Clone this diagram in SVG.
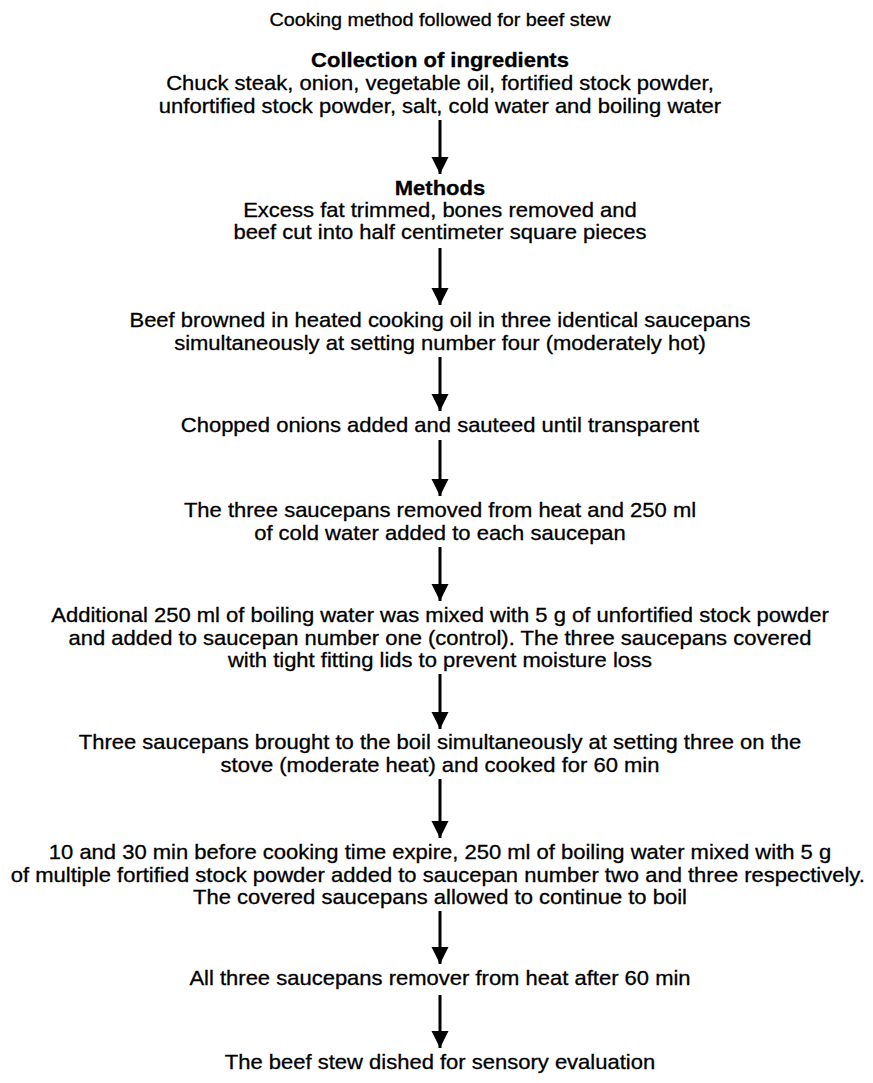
<svg xmlns="http://www.w3.org/2000/svg" width="873" height="1083" viewBox="0 0 873 1083">
<style>
text{font-family:"Liberation Sans",Arial,sans-serif;font-size:20px;fill:#000;stroke:#000;stroke-width:0.3;text-anchor:middle}
.t{font-size:18px}
.b{font-weight:bold}
.c{stroke:#000;stroke-width:3;fill:none}
</style>
<defs>
<marker id="ah" markerUnits="userSpaceOnUse" markerWidth="18" markerHeight="18" refX="17" refY="8.5" orient="auto"><path d="M0,0 L17,8.5 L0,17 Z" fill="#000"/></marker>
</defs>
<rect width="873" height="1083" fill="#fff"/>
<g id="title" transform="matrix(1.1 0 0 1 -44 0)"><text class="t" x="440" y="26">Cooking method followed for beef stew</text></g>
<g id="n1" transform="matrix(1.1 0 0 1 -44 0)"><text class="b" x="440" y="67">Collection of ingredients</text><text x="440" y="90">Chuck steak, onion, vegetable oil, fortified stock powder,</text><text x="440" y="113">unfortified stock powder, salt, cold water and boiling water</text></g>
<g id="n2" transform="matrix(1.1 0 0 1 -44 0)"><text class="b" x="440" y="195">Methods</text><text x="440" y="217">Excess fat trimmed, bones removed and</text><text x="440" y="239">beef cut into half centimeter square pieces</text></g>
<g id="n3" transform="matrix(1.1 0 0 1 -44 0)"><text x="440" y="327">Beef browned in heated cooking oil in three identical saucepans</text><text x="440" y="350">simultaneously at setting number four (moderately hot)</text></g>
<g id="n4" transform="matrix(1.1 0 0 1 -44 0)"><text x="440" y="432">Chopped onions added and sauteed until transparent</text></g>
<g id="n5" transform="matrix(1.1 0 0 1 -44 0)"><text x="440" y="517">The three saucepans removed from heat and 250 ml</text><text x="440" y="540">of cold water added to each saucepan</text></g>
<g id="n6" transform="matrix(1.1 0 0 1 -44 0)"><text x="440" y="622">Additional 250 ml of boiling water was mixed with 5 g of unfortified stock powder</text><text x="440" y="645">and added to saucepan number one (control). The three saucepans covered</text><text x="440" y="667">with tight fitting lids to prevent moisture loss</text></g>
<g id="n7" transform="matrix(1.1 0 0 1 -44 0)"><text x="440" y="749">Three saucepans brought to the boil simultaneously at setting three on the</text><text x="440" y="772">stove (moderate heat) and cooked for 60 min</text></g>
<g id="n8" transform="matrix(1.1 0 0 1 -44 0)"><text x="440" y="859">10 and 30 min before cooking time expire, 250 ml of boiling water mixed with 5 g</text><text x="438" y="882">of multiple fortified stock powder added to saucepan number two and three respectively.</text><text x="440" y="904">The covered saucepans allowed to continue to boil</text></g>
<g id="n9" transform="matrix(1.1 0 0 1 -44 0)"><text x="440" y="985">All three saucepans remover from heat after 60 min</text></g>
<g id="n10" transform="matrix(1.1 0 0 1 -44 0)"><text x="440" y="1069">The beef stew dished for sensory evaluation</text></g>
<g id="connectors">
<line class="c" x1="440" y1="120" x2="440" y2="174" marker-end="url(#ah)"/>
<line class="c" x1="440" y1="248" x2="440" y2="305" marker-end="url(#ah)"/>
<line class="c" x1="440" y1="357" x2="440" y2="411" marker-end="url(#ah)"/>
<line class="c" x1="440" y1="440" x2="440" y2="496" marker-end="url(#ah)"/>
<line class="c" x1="440" y1="547" x2="440" y2="601" marker-end="url(#ah)"/>
<line class="c" x1="440" y1="674" x2="440" y2="729" marker-end="url(#ah)"/>
<line class="c" x1="440" y1="779" x2="440" y2="838" marker-end="url(#ah)"/>
<line class="c" x1="440" y1="911" x2="440" y2="964" marker-end="url(#ah)"/>
<line class="c" x1="440" y1="995" x2="440" y2="1048" marker-end="url(#ah)"/>
</g>
</svg>
